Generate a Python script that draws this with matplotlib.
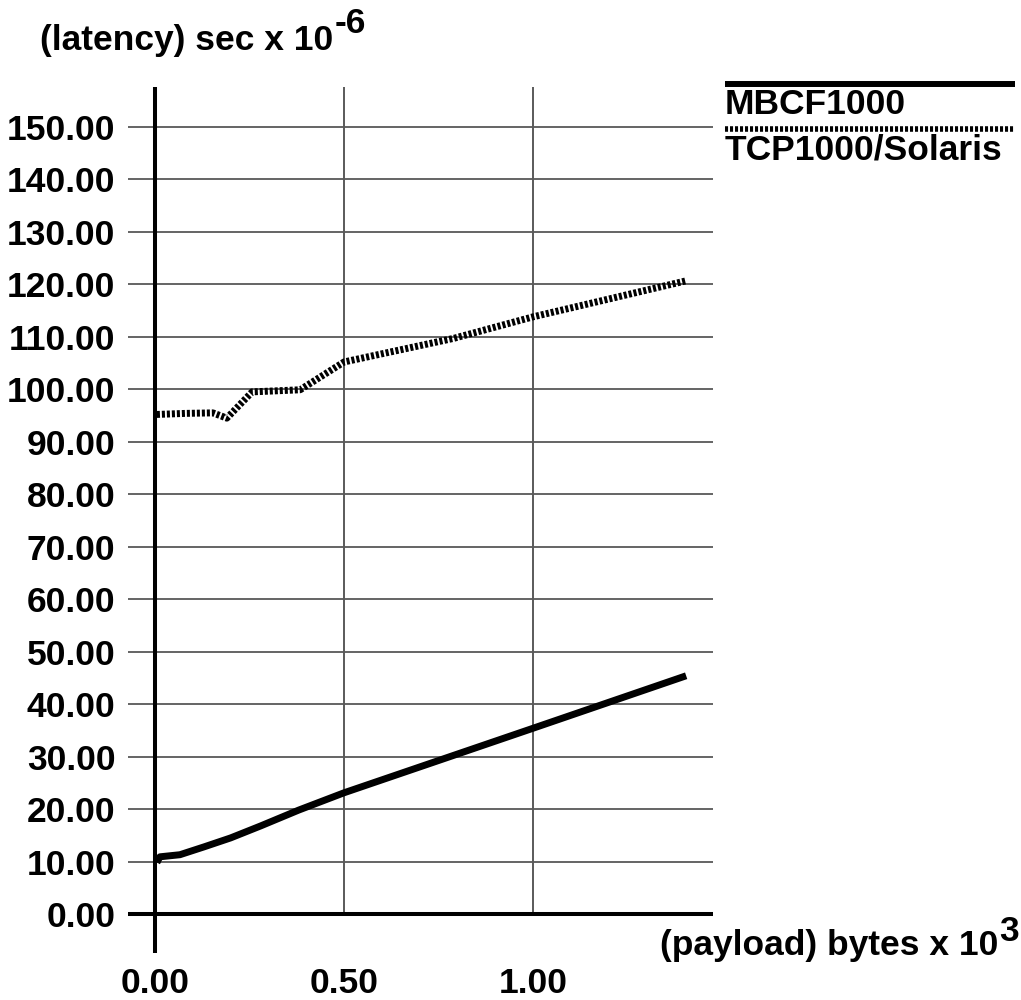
import matplotlib
matplotlib.use("Agg")
import matplotlib.pyplot as plt

plt.rcParams['font.family'] = ['Liberation Sans', 'DejaVu Sans']
plt.rcParams['font.weight'] = 'bold'
plt.rcParams['lines.scale_dashes'] = False

# latency in microseconds versus payload in kilobytes
mbcf_x = [0.005, 0.013, 0.066, 0.13, 0.20, 0.28, 0.38, 0.50, 1.00, 1.405]
mbcf_y = [9.8, 10.9, 11.3, 12.8, 14.5, 16.8, 19.8, 23.1, 35.4, 45.4]
tcp_x = [0.005, 0.08, 0.153, 0.19, 0.257, 0.384, 0.50, 0.79, 1.00, 1.407]
tcp_y = [95.2, 95.4, 95.5, 94.5, 99.5, 99.9, 105.2, 109.7, 113.8, 120.7]

y_ticks = [0, 10, 20, 30, 40, 50, 60, 70, 80, 90, 100, 110, 120, 130, 140, 150]
y_tick_labels = ['%.2f' % v for v in y_ticks]
x_ticks = [0.0, 0.5, 1.0]
x_tick_labels = ['%.2f' % v for v in x_ticks]
series_names = ['MBCF1000', 'TCP1000/Solaris']

W, H, DPI = 1021, 1000, 100
TICK_FS = 25.5
LABEL_FS = 25.5
DOT = (0, (2.2, 1.4))

fig = plt.figure(figsize=(W / DPI, H / DPI), dpi=DPI)
L, R, B, T = 128, 713, 953, 87
ax = fig.add_axes([L / W, 1 - B / H, (R - L) / W, (B - T) / H])
ax.set_xlim(-0.0714, 1.476)
ax.set_ylim(-7.43, 157.6)
for s in ax.spines.values():
    s.set_visible(False)

ax.set_yticks(y_ticks, y_tick_labels)
ax.set_xticks(x_ticks, x_tick_labels)
ax.tick_params(length=0, labelsize=TICK_FS)
ax.tick_params(axis='y', pad=9)
ax.tick_params(axis='x', pad=10)

# grid
ax.hlines(y_ticks[1:], *ax.get_xlim(), color='#3a3a3a', lw=1.1, zorder=1)
ax.vlines(x_ticks[1:], 0, ax.get_ylim()[1], color='#5a5a5a', lw=1.4, zorder=1)
# main axes lines
ax.axhline(0, color='black', lw=2.9, zorder=2)
ax.axvline(0, color='black', lw=2.9, zorder=2)

ax.plot(mbcf_x, mbcf_y, color='black', lw=5.0, solid_capstyle='butt',
        solid_joinstyle='round', zorder=3)
ax.plot(tcp_x, tcp_y, color='black', lw=5.0, linestyle=DOT,
        dash_capstyle='butt', zorder=3)

# overlay in pixel coordinates for legend and axis captions
ov = fig.add_axes([0, 0, 1, 1], facecolor='none')
ov.set_xlim(0, W)
ov.set_ylim(H, 0)
ov.axis('off')

ov.plot([725, 1015], [84, 84], color='black', lw=4.3, solid_capstyle='butt')
ov.text(725, 114, series_names[0], fontsize=LABEL_FS, ha='left', va='baseline')
ov.plot([725, 1015], [129, 129], color='black', lw=4.0, linestyle=DOT,
        dash_capstyle='butt')
ov.text(725, 159, series_names[1], fontsize=LABEL_FS, ha='left', va='baseline')

fig.canvas.draw()
renderer = fig.canvas.get_renderer()


def caption(x, y, base, sup, rise):
    t = ov.text(x, y, base, fontsize=LABEL_FS, ha='left', va='baseline')
    bb = t.get_window_extent(renderer)
    ov.text(bb.x1 + 1, y - rise, sup, fontsize=LABEL_FS, ha='left', va='baseline')


caption(40, 50, '(latency) sec x 10', '-6', 17)
caption(660, 955, '(payload) bytes x 10', '3', 14)

fig.savefig('out.png', dpi=DPI)
